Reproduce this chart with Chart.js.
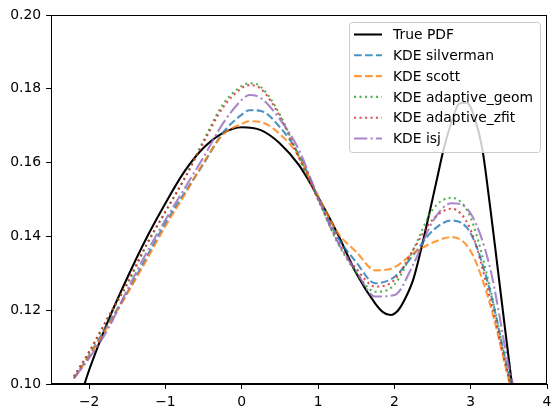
<!DOCTYPE html>
<html>
<head>
<meta charset="utf-8">
<script src="https://cdn.jsdelivr.net/npm/chart.js@4.4.1/dist/chart.umd.min.js"></script>
<style>
  html, body { margin: 0; padding: 0; background: #fff; }
  #wrap { width: 560px; height: 418px; }
</style>
</head>
<body>
<div id="wrap"><canvas id="kdeChart" width="560" height="418"></canvas></div>
<script>
// values
var xTicks = [-2, -1, 0, 1, 2, 3, 4];
var yTicks = [0.10, 0.12, 0.14, 0.16, 0.18, 0.20];

var trueX = [-2.1, -2.0, -1.75, -1.5, -1.25, -1.0, -0.75, -0.5, -0.25, 0, 0.25, 0.5, 0.75, 1.0, 1.25, 1.5, 1.75, 1.85, 1.95, 2.05, 2.15, 2.25, 2.35, 2.45, 2.55, 2.65, 2.75, 2.85, 2.95, 3.05, 3.15, 3.25, 3.35, 3.45, 3.55, 3.65];
var truePdf = [0.0975, 0.1038, 0.1172, 0.1288, 0.1395, 0.1490, 0.1576, 0.1640, 0.1680, 0.1696, 0.1688, 0.1652, 0.1593, 0.1507, 0.1410, 0.1300, 0.1218, 0.1195, 0.1187, 0.1200, 0.1235, 0.1285, 0.1365, 0.1455, 0.1548, 0.1640, 0.1710, 0.1760, 0.1762, 0.1722, 0.1640, 0.1488, 0.1320, 0.1150, 0.0983, 0.0820];

var kdeX = [-2.2, -2.0, -1.75, -1.5, -1.25, -1.0, -0.75, -0.5, -0.25, 0, 0.1, 0.25, 0.5, 0.75, 1.0, 1.25, 1.5, 1.75, 2.0, 2.25, 2.5, 2.75, 3.0, 3.25, 3.5, 3.6];
var kdeSilverman = [0.1015, 0.1078, 0.1164, 0.1248, 0.1343, 0.1436, 0.1518, 0.1597, 0.1680, 0.1730, 0.1742, 0.1740, 0.1696, 0.1621, 0.1505, 0.1400, 0.1330, 0.1273, 0.1290, 0.1350, 0.1415, 0.1443, 0.1408, 0.1255, 0.1024, 0.0940];
var kdeScott = [0.1015, 0.1075, 0.1158, 0.1245, 0.1335, 0.1428, 0.1512, 0.1600, 0.1675, 0.1705, 0.1712, 0.1710, 0.1677, 0.1616, 0.1510, 0.1412, 0.1358, 0.1308, 0.1316, 0.1355, 0.1383, 0.1398, 0.1360, 0.1219, 0.1010, 0.0930];
var kdeGeom = [0.1020, 0.1085, 0.1180, 0.1270, 0.1375, 0.1466, 0.1557, 0.1660, 0.1757, 0.1808, 0.1815, 0.1805, 0.1730, 0.1615, 0.1500, 0.1385, 0.1302, 0.1250, 0.1269, 0.1365, 0.1472, 0.1505, 0.1450, 0.1264, 0.1020, 0.0940];
var kdeZfit = [0.1020, 0.1088, 0.1182, 0.1275, 0.1378, 0.1468, 0.1557, 0.1655, 0.1748, 0.1802, 0.1810, 0.1800, 0.1725, 0.1612, 0.1500, 0.1390, 0.1313, 0.1264, 0.1282, 0.1365, 0.1445, 0.1475, 0.1417, 0.1235, 0.1015, 0.0940];
var kdeIsj = [0.1016, 0.1070, 0.1150, 0.1255, 0.1355, 0.1445, 0.1530, 0.1615, 0.1705, 0.1770, 0.1783, 0.1775, 0.1717, 0.1634, 0.1505, 0.1388, 0.1305, 0.1237, 0.1241, 0.1325, 0.1440, 0.1490, 0.1462, 0.1318, 0.1047, 0.0960];

var FONT = 'DejaVu Sans';
var FS = 13.9;

function pts(xs, ys) {
    return xs.map(function(x, i) { return {x: x, y: ys[i]}; });
}
function minus(s) { return String(s).replace('-', '\u2212'); }

var series = [
    {label: 'True PDF', x: trueX, y: truePdf, color: '#000000', dash: []},
    {label: 'KDE silverman', x: kdeX, y: kdeSilverman, color: 'rgba(31,119,180,0.8)', dash: [7.7, 3.3]},
    {label: 'KDE scott', x: kdeX, y: kdeScott, color: 'rgba(255,127,14,0.8)', dash: [7.7, 3.3]},
    {label: 'KDE adaptive_geom', x: kdeX, y: kdeGeom, color: 'rgba(44,160,44,0.8)', dash: [2.1, 3.4]},
    {label: 'KDE adaptive_zfit', x: kdeX, y: kdeZfit, color: 'rgba(214,39,40,0.8)', dash: [2.1, 3.4]},
    {label: 'KDE isj', x: kdeX, y: kdeIsj, color: 'rgba(148,103,189,0.8)', dash: [13.3, 3.3, 2.1, 3.3]}
];

var datasets = series.map(function(s, i) {
    return {
        label: s.label,
        data: pts(s.x, s.y),
        borderColor: s.color,
        borderDash: s.dash,
        borderWidth: 2.08,
        pointRadius: 0,
        fill: false,
        cubicInterpolationMode: 'monotone',
        clip: 0,
        order: series.length - i
    };
});

// top/right spines + in-axes legend like matplotlib
var framePlugin = {
    id: 'frame',
    afterDraw: function(chart) {
        var ctx = chart.ctx, a = chart.chartArea;
        ctx.save();
        ctx.strokeStyle = '#000';
        ctx.lineWidth = 1;
        ctx.strokeRect(a.left + 0.5, a.top + 0.5, a.right - a.left - 1, a.bottom - a.top - 1);

        var bx = 349.5, by = 22.5, bw = 191, bh = 130, r = 3;
        ctx.beginPath();
        ctx.moveTo(bx + r, by);
        ctx.arcTo(bx + bw, by, bx + bw, by + bh, r);
        ctx.arcTo(bx + bw, by + bh, bx, by + bh, r);
        ctx.arcTo(bx, by + bh, bx, by, r);
        ctx.arcTo(bx, by, bx + bw, by, r);
        ctx.closePath();
        ctx.fillStyle = 'rgba(255,255,255,0.8)';
        ctx.fill();
        ctx.strokeStyle = '#cccccc';
        ctx.stroke();

        ctx.font = FS + 'px "' + FONT + '"';
        ctx.textBaseline = 'middle';
        series.forEach(function(s, i) {
            var yy = 34.5 + i * 20.8;
            ctx.beginPath();
            ctx.setLineDash(s.dash);
            ctx.strokeStyle = s.color;
            ctx.lineWidth = 2.08;
            ctx.moveTo(354, yy);
            ctx.lineTo(382, yy);
            ctx.stroke();
            ctx.setLineDash([]);
            ctx.fillStyle = '#000';
            ctx.fillText(s.label, 393, yy + 1);
        });
        ctx.restore();
    }
};

var ctx = document.getElementById('kdeChart').getContext('2d');
var chart = new Chart(ctx, {
    type: 'line',
    data: {datasets: datasets},
    options: {
        responsive: false,
        animation: false,
        layout: {padding: {top: 15, right: 13, left: 0, bottom: 0}},
        plugins: {legend: {display: false}, tooltip: {enabled: false}},
        scales: {
            x: {
                type: 'linear',
                min: -2.5,
                max: 4,
                afterBuildTicks: function(s) { s.ticks = xTicks.map(function(v) { return {value: v}; }); },
                afterFit: function(s) { s.height = 34; },
                ticks: {
                    color: '#000', padding: 4.9, maxRotation: 0, autoSkip: false,
                    font: {family: FONT, size: FS},
                    callback: function(v) { return minus(v); }
                },
                grid: {display: true, drawOnChartArea: false, drawTicks: true, tickLength: 4.9, color: '#000', lineWidth: 1},
                border: {display: true, color: '#000', width: 1}
            },
            y: {
                type: 'linear',
                min: 0.10,
                max: 0.20,
                afterBuildTicks: function(s) { s.ticks = yTicks.map(function(v) { return {value: v}; }); },
                afterFit: function(s) { s.width = 51; },
                ticks: {
                    color: '#000', padding: 4.9, autoSkip: false,
                    font: {family: FONT, size: FS},
                    callback: function(v) { return Number(v).toFixed(2); }
                },
                grid: {display: true, drawOnChartArea: false, drawTicks: true, tickLength: 4.9, color: '#000', lineWidth: 1},
                border: {display: true, color: '#000', width: 1}
            }
        }
    },
    plugins: [framePlugin]
});
</script>
</body>
</html>
